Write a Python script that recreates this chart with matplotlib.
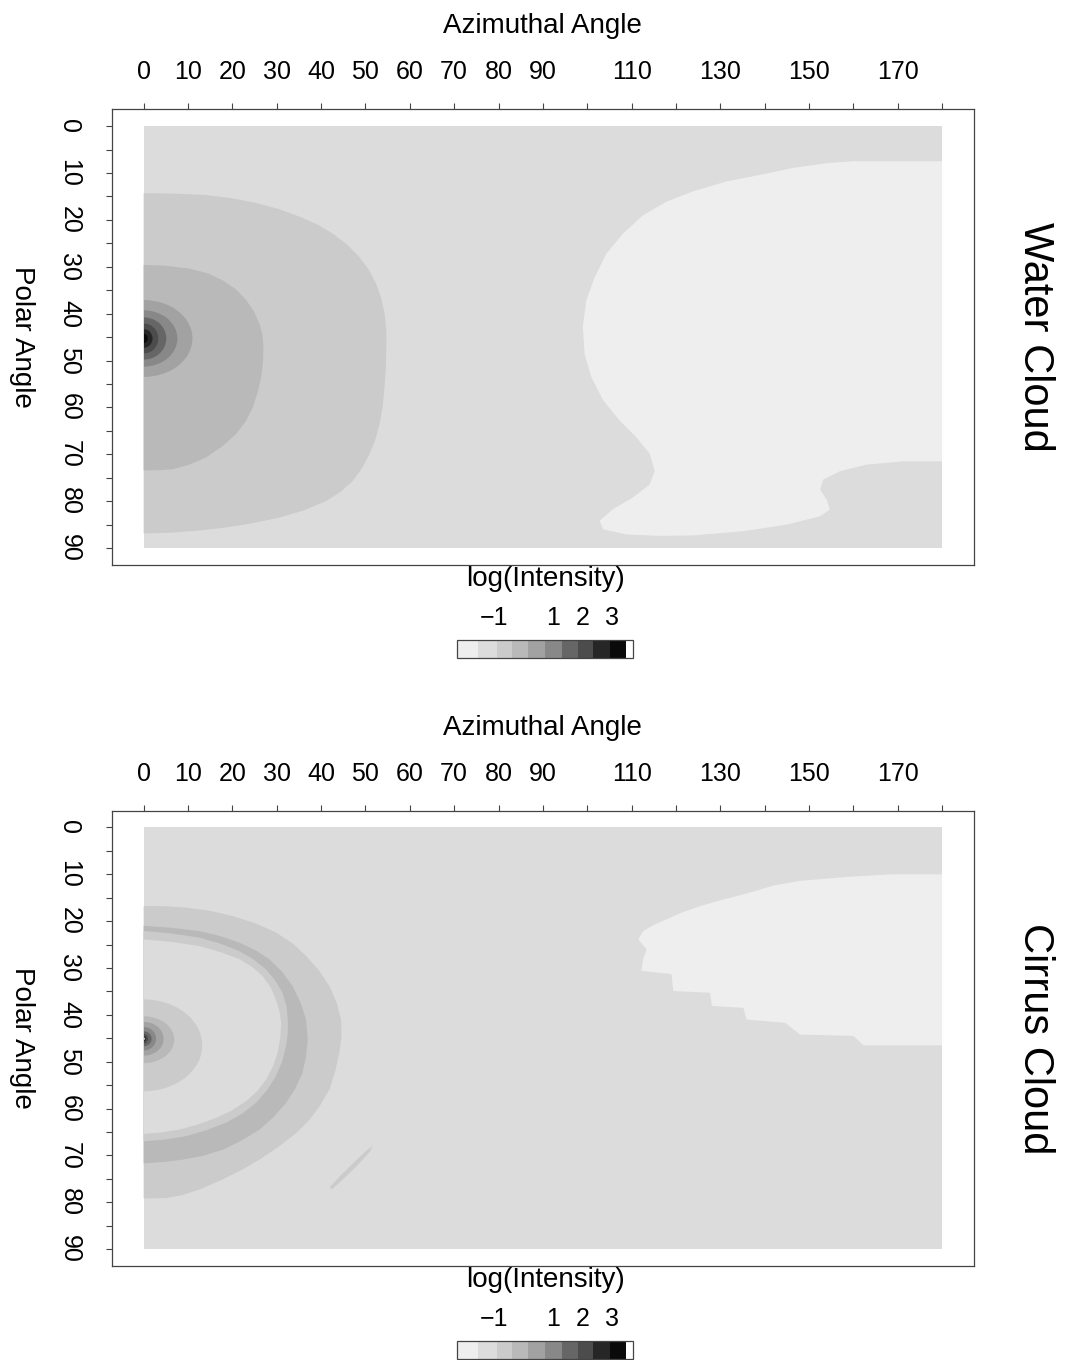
import matplotlib
matplotlib.use("Agg")
from matplotlib import pyplot
from matplotlib.axes import Axes
from matplotlib.colors import ListedColormap, BoundaryNorm
from matplotlib.cm import ScalarMappable
from matplotlib.patches import Ellipse
from typing import List

pyplot.rcParams["font.family"] = ["Liberation Sans", "DejaVu Sans"]

# log(Intensity) key: class limits and grey shades
LEVELS = [-2.25, -1.54, -0.91, -0.41, 0.16, 0.72, 1.29, 1.85, 2.36, 2.93, 3.47, 3.70]
SHADES = [
    "#eeeeee", "#dcdcdc", "#cbcbcb", "#b9b9b9", "#a2a2a2", "#888888",
    "#666666", "#4c4c4c", "#262626", "#0a0a0a", "#ffffff",
]
KEY_TICKS = [-1, 1, 2, 3]

AZ_RANGE = [0, 180]
POLAR_RANGE = [0, 90]
AZ_TICKS = list(range(0, 181, 10))
AZ_LABELS = [
    "0", "10", "20", "30", "40", "50", "60", "70", "80", "90",
    "", "110", "", "130", "", "150", "", "170", "",
]
POLAR_TICKS = list(range(0, 91, 5))
POLAR_LABELS = [str(t) if t % 10 == 0 else "" for t in POLAR_TICKS]

# ---- Water cloud ----
WATER_BACKGROUND = -1.2

WATER_LIGHT_AZ = [180, 160, 154, 146.5, 139, 131.4, 123.9, 117.9, 112.6, 108.1,
                  104.3, 101.7, 99.8, 99, 99.4, 100.9, 103.6, 107.3, 111.1, 114.1,
                  115.2, 114.1, 110.3, 105.8, 102.8, 103.6, 108.9, 116.4, 123.9,
                  135.2, 145, 152.5, 154.7, 154, 152.5, 153.2, 157, 163, 171.3, 180]
WATER_LIGHT_POL = [7.5, 7.5, 7.9, 8.9, 10.4, 11.8, 13.9, 16.1, 19, 22.9,
                   27.2, 32.2, 37.1, 42.8, 48.6, 53.5, 58.5, 62.8, 66.4, 69.9,
                   73.5, 76.4, 79.2, 81.7, 84.2, 86, 87.1, 87.4, 87.3,
                   86.4, 85, 83.2, 81.8, 79.7, 77.5, 75.4, 73.6, 72.2, 71.5, 71.5]
WATER_LIGHT_VALUE = -1.9

WATER_BAND1_AZ = [0, 7, 14, 20, 25.3, 30.5, 35.1, 39.2, 42.6, 45.8, 48.6, 50.8,
                  52.4, 53.6, 54.3, 54.7, 54.7, 54.6, 54.3, 53.9, 53.2, 52.2,
                  50.9, 49.2, 47.1, 44.4, 41.1, 36, 30.6, 24, 17.8, 12, 6.5, 0]
WATER_BAND1_POL = [14.3, 14.4, 14.7, 15.4, 16.4, 17.7, 19.3, 21, 22.9, 25.2, 27.9, 30.7,
                   33.6, 36.8, 40, 43.5, 47.1, 51.5, 55.7, 59.7, 63.5, 67,
                   70, 73, 75.7, 78, 80, 82, 83.5, 84.8, 85.7, 86.3, 86.7, 86.9]
WATER_BAND1_VALUE = -0.65

WATER_BAND2_AZ = [0, 5, 10.3, 14.5, 17.8, 20.8, 23.1, 24.9, 26.1, 26.8, 27, 26.9,
                  26.5, 25.7, 24.6, 23, 20.8, 17.6, 14, 10.3, 6.5, 3, 0]
WATER_BAND2_POL = [29.6, 29.8, 30.4, 31.4, 32.9, 34.8, 37.1, 39.6, 42.1, 44.6, 47.1, 50.3,
                   53.5, 56.8, 60, 63, 65.7, 68.4, 70.7, 72.2, 73.2, 73.4, 73.4]
WATER_BAND2_VALUE = -0.1

WATER_RING_CENTER = [45.3, 45.3, 45.3, 45.3, 45.3, 45.3]
WATER_RING_AZ = [11.0, 7.6, 5.1, 3.3, 2.0, 0.9]
WATER_RING_POL = [8.2, 6.0, 4.5, 3.2, 2.0, 1.0]
WATER_RING_VALUE = [0.45, 1.0, 1.55, 2.1, 2.65, 3.2]

# ---- Cirrus cloud ----
CIRRUS_BACKGROUND = -1.2

CIRRUS_LIGHT_AZ = [180, 169, 159.3, 148, 142, 136.7, 131, 125.4, 121.5, 117.9,
                   115, 112.6, 111.5, 113.4, 112.6, 112.2, 119, 119.4, 127.7,
                   128.1, 135.2, 135.9, 144.6, 148, 160, 162.3, 180]
CIRRUS_LIGHT_POL = [10, 10, 10.5, 11.4, 12.4, 13.9, 15.3, 16.8, 18.1, 19.6,
                    20.8, 22.1, 23.9, 26, 28.1, 30.6, 31.3, 34.9, 35.3,
                    38.1, 38.5, 41, 41.7, 44.2, 44.5, 46.5, 46.5]
CIRRUS_LIGHT_VALUE = -1.9

CIRRUS_OUTER_AZ = [0, 4.5, 9.5, 15, 20, 25.3, 29.8, 33.5, 36.6, 39.5, 41.9, 43.5,
                   44.5, 44.6, 44.1, 43.2, 41.9, 39.8, 37.4, 34.2, 30.6, 26.6,
                   22.3, 17.4, 12.5, 8.5, 5, 0]
CIRRUS_OUTER_POL = [16.8, 16.8, 17.1, 17.8, 18.9, 20.5, 22.4, 24.7, 27.4, 30.5, 33.9, 37.4,
                    41, 44.6, 48.1, 52, 55.9, 59.3, 62.4, 65.4, 68, 70.6,
                    73, 75.3, 77.3, 78.5, 79.1, 79.2]
CIRRUS_OUTER_VALUE = -0.65

CIRRUS_RING_AZ = [0, 6, 12.5, 17.3, 21.6, 25.2, 28.3, 31.2, 33.6, 35.4, 36.6, 37,
                  36.6, 35.8, 34.2, 32.1, 29.3, 26.1, 22.1, 17.8, 13.3, 8.8, 4.4, 0]
CIRRUS_RING_POL = [21, 21.4, 22.1, 23.2, 24.6, 26.2, 28.1, 30.8, 33.9, 37.4, 41, 45.3,
                   48.9, 52.4, 55.7, 58.8, 61.8, 64.5, 66.8, 68.8, 70.1, 70.9, 71.4, 71.7]
CIRRUS_RING_VALUE = -0.1

CIRRUS_INNER_AZ = [0, 6, 12.5, 17.3, 21.6, 24.8, 27.6, 29.7, 31.3, 32.2, 32.5, 32.5,
                   32.1, 31.2, 29.8, 27.8, 25.3, 22.2, 18.6, 14.2, 9.5, 4.8, 0]
CIRRUS_INNER_POL = [22.1, 22.6, 23.5, 24.8, 26.4, 28.2, 30.3, 32.7, 35.3, 38.1, 41, 43.9,
                    46.7, 50, 53.1, 56.1, 58.8, 61.1, 63, 64.6, 65.9, 66.6, 67]
CIRRUS_INNER_VALUE = -0.65

CIRRUS_HOLE_AZ = [0, 6, 12.5, 17.3, 21.6, 24.5, 26.8, 28.6, 29.8, 30.6, 31, 30.8,
                  30.2, 29.1, 27.6, 25.6, 23.1, 19.9, 16.3, 12.2, 8, 4, 0]
CIRRUS_HOLE_POL = [23.9, 24.4, 25.3, 26.6, 28.1, 29.8, 31.7, 34.1, 36.7, 39.2, 41.7, 45,
                   48.1, 51.1, 53.8, 56.3, 58.4, 60.4, 62, 63.4, 64.5, 65.1, 65.4]
CIRRUS_HOLE_VALUE = -1.2

CIRRUS_STREAK_AZ = [41.9, 44.5, 47.5, 50.2, 51.6, 51.0, 48.3, 45.3, 42.5]
CIRRUS_STREAK_POL = [76.8, 74.2, 71.4, 69.0, 68.0, 69.2, 72.0, 74.8, 77.2]
CIRRUS_STREAK_VALUE = -0.65

CIRRUS_CORE_CENTER = [46.5, 45.3, 45.1, 45.1, 45.1, 45.1, 45.1, 45.1]
CIRRUS_CORE_AZ = [13.2, 6.9, 4.5, 2.8, 1.8, 1.0, 0.5, 0.25]
CIRRUS_CORE_POL = [9.8, 5.0, 3.6, 2.5, 1.6, 1.0, 0.55, 0.3]
CIRRUS_CORE_VALUE = [-0.65, -0.1, 0.45, 1.0, 1.55, 2.1, 2.65, 3.6]

cmap = ListedColormap(SHADES)
norm = BoundaryNorm(LEVELS, ncolors=len(SHADES))
FRAME = "#444444"


def shade(value: float):
    return cmap(norm(value))


def draw_field(
    ax: Axes,
    background: float,
    regions: List[tuple],
    rings: List[tuple],
) -> None:
    rect = ax.fill(
        [AZ_RANGE[0], AZ_RANGE[1], AZ_RANGE[1], AZ_RANGE[0]],
        [POLAR_RANGE[0], POLAR_RANGE[0], POLAR_RANGE[1], POLAR_RANGE[1]],
        color=shade(background),
        linewidth=0,
    )[0]
    for az, pol, value in regions:
        ax.fill(
            az,
            pol,
            color=shade(value),
            linewidth=0,
        )
    for center, semi_az, semi_pol, value in rings:
        ring = Ellipse(
            (0, center),
            2 * semi_az,
            2 * semi_pol,
            facecolor=shade(value),
            edgecolor="none",
        )
        ax.add_patch(ring)
        ring.set_clip_path(rect)


def style_axes(
    ax: Axes,
    name: str,
) -> None:
    ax.set_xlim(-7.2, 187.2)
    ax.set_ylim(93.6, -3.6)
    ax.set_xticks(AZ_TICKS)
    ax.set_xticklabels(AZ_LABELS)
    ax.set_yticks(POLAR_TICKS)
    ax.set_yticklabels(POLAR_LABELS)
    ax.tick_params(
        axis="x",
        top=True,
        bottom=False,
        labeltop=True,
        labelbottom=False,
        length=4.3,
        width=0.8,
        pad=13.5,
        labelsize=18,
        color=FRAME,
    )
    ax.tick_params(
        axis="y",
        length=4.3,
        width=0.8,
        pad=17.5,
        labelsize=18,
        labelrotation=-90,
        color=FRAME,
    )
    for label in ax.get_yticklabels():
        label.set_verticalalignment("center")
    for spine in ax.spines.values():
        spine.set_color(FRAME)
        spine.set_linewidth(0.9)
    ax.xaxis.set_label_position("top")
    ax.set_xlabel("Azimuthal Angle", fontsize=20)
    ax.xaxis.label.set_verticalalignment("center")
    ax.xaxis.set_label_coords(0.5, 1.182)
    ax.set_ylabel("Polar Angle", fontsize=20, rotation=-90)
    ax.yaxis.label.set_verticalalignment("center")
    ax.yaxis.set_label_coords(-0.104, 0.5)
    ax.text(
        1.071,
        0.5,
        name,
        transform=ax.transAxes,
        rotation=-90,
        fontsize=30,
        ha="center",
        va="center",
    )


def draw_key(
    fig,
    rect: List[float],
) -> None:
    cax = fig.add_axes(rect)
    cb = fig.colorbar(
        ScalarMappable(norm=norm, cmap=cmap),
        cax=cax,
        orientation="horizontal",
        spacing="proportional",
        ticks=KEY_TICKS,
    )
    cb.minorticks_off()
    cb.outline.set_linewidth(0.9)
    cb.outline.set_edgecolor(FRAME)
    cax.xaxis.set_ticks_position("top")
    cax.tick_params(length=0, pad=7, labelsize=18)
    cax.xaxis.set_label_position("top")
    cb.set_label("log(Intensity)", fontsize=20)
    cax.xaxis.label.set_verticalalignment("center")
    cax.xaxis.set_label_coords(0.5, 4.45)


fig = pyplot.figure(figsize=(10.65, 13.6), dpi=100)

ax1 = fig.add_axes([0.1049, 0.5846, 0.8097, 0.3351])
draw_field(
    ax1,
    WATER_BACKGROUND,
    [
        (WATER_LIGHT_AZ, WATER_LIGHT_POL, WATER_LIGHT_VALUE),
        (WATER_BAND1_AZ, WATER_BAND1_POL, WATER_BAND1_VALUE),
        (WATER_BAND2_AZ, WATER_BAND2_POL, WATER_BAND2_VALUE),
    ],
    list(zip(WATER_RING_CENTER, WATER_RING_AZ, WATER_RING_POL, WATER_RING_VALUE)),
)
style_axes(ax1, "Water Cloud")
draw_key(fig, [0.4294, 0.5164, 0.1647, 0.0130])

ax2 = fig.add_axes([0.1049, 0.0691, 0.8097, 0.3349])
draw_field(
    ax2,
    CIRRUS_BACKGROUND,
    [
        (CIRRUS_LIGHT_AZ, CIRRUS_LIGHT_POL, CIRRUS_LIGHT_VALUE),
        (CIRRUS_OUTER_AZ, CIRRUS_OUTER_POL, CIRRUS_OUTER_VALUE),
        (CIRRUS_RING_AZ, CIRRUS_RING_POL, CIRRUS_RING_VALUE),
        (CIRRUS_INNER_AZ, CIRRUS_INNER_POL, CIRRUS_INNER_VALUE),
        (CIRRUS_HOLE_AZ, CIRRUS_HOLE_POL, CIRRUS_HOLE_VALUE),
        (CIRRUS_STREAK_AZ, CIRRUS_STREAK_POL, CIRRUS_STREAK_VALUE),
    ],
    list(zip(CIRRUS_CORE_CENTER, CIRRUS_CORE_AZ, CIRRUS_CORE_POL, CIRRUS_CORE_VALUE)),
)
style_axes(ax2, "Cirrus Cloud")
draw_key(fig, [0.4294, 0.001, 0.1647, 0.0130])

fig.savefig("out.png", dpi=100)
